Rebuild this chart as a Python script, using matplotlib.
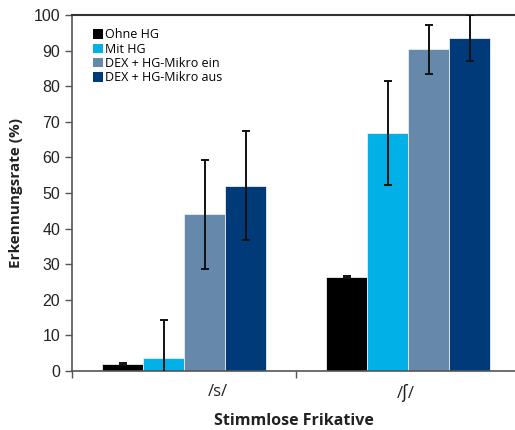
import numpy as np
import matplotlib
matplotlib.use("Agg")
import matplotlib.pyplot as plt
from matplotlib.patches import Patch

# Erkennungsrate fuer stimmlose Frikative, je Bedingung
categories = ["/s/", "/ʃ/"]
series = ["Ohne HG", "Mit HG", "DEX + HG-Mikro ein", "DEX + HG-Mikro aus"]
colors = ["#000000", "#00b0e6", "#6689ab", "#003a78"]

ohne_hg = [2.0, 26.4]
mit_hg = [3.6, 67.0]
dex_ein = [44.0, 90.4]
dex_aus = [52.0, 93.6]

ohne_hg_err = [0.3, 0.3]
mit_hg_err = [10.7, 14.6]
dex_ein_err = [15.4, 6.9]
dex_aus_err = [15.3, 6.5]

values = [ohne_hg, mit_hg, dex_ein, dex_aus]
errors = [ohne_hg_err, mit_hg_err, dex_ein_err, dex_aus_err]

plt.rcParams['font.family'] = ['Liberation Sans', 'DejaVu Sans']

fig = plt.figure(figsize=(5.15, 4.3), dpi=100)
ax = fig.add_axes([0.140, 0.137, 0.862, 0.828])

centers = np.array([0.5, 1.5])
width = 0.183
for i, (vals, errs) in enumerate(zip(values, errors)):
    x = centers + (i - 1.5) * width
    ax.bar(x, vals, width=width, color=colors[i], edgecolor="#e8eef4",
           linewidth=0.6, zorder=2)
    ax.errorbar(x, vals, yerr=errs, fmt="none", ecolor="#111111",
                elinewidth=1.4, capsize=3, capthick=1.4, zorder=3)

ax.set_xlim(0, 1.98)
ax.set_ylim(0, 100)
ax.set_yticks(np.arange(0, 101, 10))
ax.tick_params(axis="y", labelsize=11.5, length=5, width=1,
               color="#555555", labelcolor="#222222", direction="out")

# Gruppengrenzen als Striche, Beschriftung separat
ax.set_xticks([0, 1])
ax.set_xticklabels([])
ax.set_xticks([0.65, 1.49], minor=True)
ax.set_xticklabels(categories, minor=True, fontsize=12,
                   family=['Open Sans', 'DejaVu Sans'], color="#222222")
ax.tick_params(axis="x", which="major", length=5, width=1, color="#555555")
ax.tick_params(axis="x", which="minor", length=0, pad=9)

ax.spines["right"].set_visible(False)
ax.spines["top"].set_color("#333333")
ax.spines["top"].set_linewidth(1.5)
for side in ["left", "bottom"]:
    ax.spines[side].set_color("#555555")
    ax.spines[side].set_linewidth(1.2)

ax.set_ylabel("Erkennungsrate (%)", fontsize=11, fontweight="bold",
              family=['Open Sans', 'DejaVu Sans'], color="#222222", labelpad=8)
ax.set_xlabel("Stimmlose Frikative", fontsize=11.5, fontweight="bold",
              family=['Open Sans', 'DejaVu Sans'], color="#222222", labelpad=8)

handles = [Patch(facecolor=c, edgecolor="none") for c in colors]
ax.legend(handles, series, loc="upper left", bbox_to_anchor=(0.021, 0.994),
          frameon=False, handlelength=0.8, handleheight=0.8,
          handletextpad=0.2, labelspacing=0.1,
          prop={"family": ['Open Sans', 'DejaVu Sans'], "size": 9})

fig.savefig("out.png", dpi=100)
